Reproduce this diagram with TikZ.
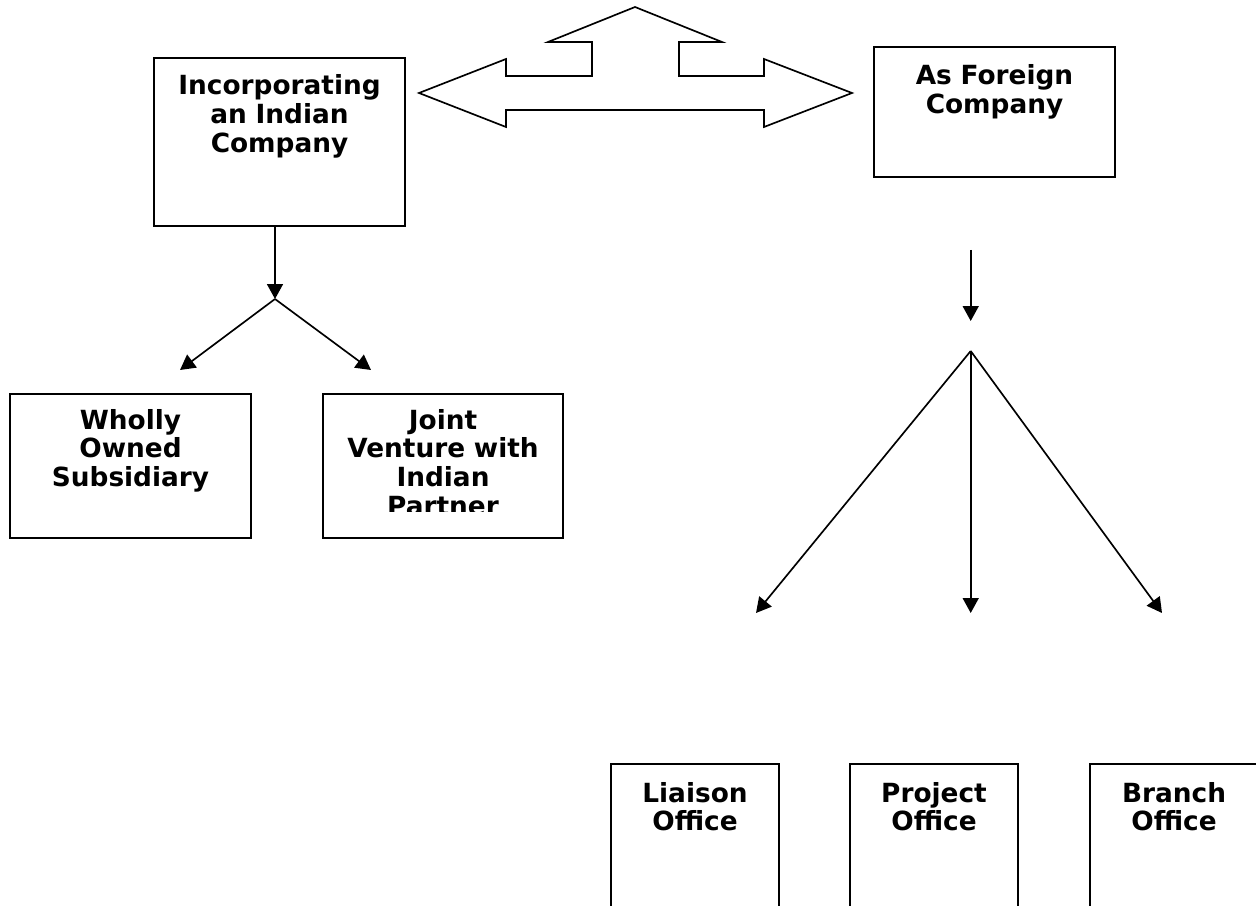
\documentclass[tikz,border=0pt]{standalone}
\usepackage{fontspec}
\setmainfont{DejaVu Sans}
\usepackage{tikz}
\usetikzlibrary{arrows.meta, positioning}

\begin{document}
\begin{tikzpicture}[
    x=0.02cm, y=-0.02cm,
    line width=0.95pt,
    arr/.style={-{Triangle[length=0.3cm, width=0.32cm]}},
    box/.style={draw, inner sep=0pt},
    office/.style={box, anchor=north, minimum width=3.36cm, minimum height=4cm},
    txt/.style={anchor=base, align=center, text width=4.6cm, inner sep=0pt,
      font=\bfseries\fontsize{15}{16.5}\selectfont}
  ]
  \useasboundingbox (0,0) rectangle (1256,905);
  \clip (0,0) rectangle (1256,905);

  % Two ways in
  \node[box, minimum width=5.02cm, minimum height=3.36cm] (incorp) at (279.5,142) {};
  \node[txt] (incorpText) at (279.5,95) {Incorporating\\an Indian\\Company};

  \node[box, minimum width=4.82cm, minimum height=2.6cm] (foreign) at (994.5,112) {};
  \node[txt] (foreignText) at (994.5,85) {As Foreign\\Company};

  % Double arrow between them
  \draw (419,93) -- (506,59) -- (506,76) -- (592,76) -- (592,42) -- (548,42)
    -- (635,7) -- (722,42) -- (679,42) -- (679,76) -- (764,76) -- (764,59)
    -- (852,93) -- (764,127) -- (764,110) -- (506,110) -- (506,127) -- cycle;

  % Indian company branches
  \node[box, minimum width=4.82cm, minimum height=2.88cm] (wholly) at (130.5,466) {};
  \node[txt] (whollyText) at (130.5,429) {Wholly\\Owned\\Subsidiary};

  \node[box, minimum width=4.8cm, minimum height=2.88cm] (joint) at (443,466) {};
  \begin{scope}
    \clip (323,394) rectangle (563,511);
    \node[txt] (jointText) at (443,429) {Joint\\Venture with\\Indian\\Partner};
  \end{scope}

  \coordinate (incSplit) at (275,299);
  \coordinate (incLeft) at (180,370);
  \coordinate (incRight) at (371,370);
  \draw[arr] (incSplit |- incorp.south) -- (incSplit);
  \draw[arr] (incSplit) -- (incLeft);
  \draw[arr] (incSplit) -- (incRight);

  % Foreign company offices
  \node[office] (liaison) at (695,763) {};
  \node[txt, text width=3cm] (liaisonText) at (695,802) {Liaison\\Office};
  \node[office] (project) at (934,763) {};
  \node[txt, text width=3cm] (projectText) at (934,802) {Project\\Office};
  \node[office] (branch) at (1174,763) {};
  \node[txt, text width=3cm] (branchText) at (1174,802) {Branch\\Office};

  \coordinate (forTop) at (970.7,250);
  \coordinate (forHead) at (970.7,321);
  \coordinate (forSplit) at (970.7,351);
  \coordinate (forLeft) at (756,613);
  \coordinate (forMid) at (970.7,613);
  \coordinate (forRight) at (1162,613);
  \draw[arr] (forTop) -- (forHead);
  \draw[arr] (forSplit) -- (forLeft);
  \draw[arr] (forSplit) -- (forMid);
  \draw[arr] (forSplit) -- (forRight);
\end{tikzpicture}
\end{document}
